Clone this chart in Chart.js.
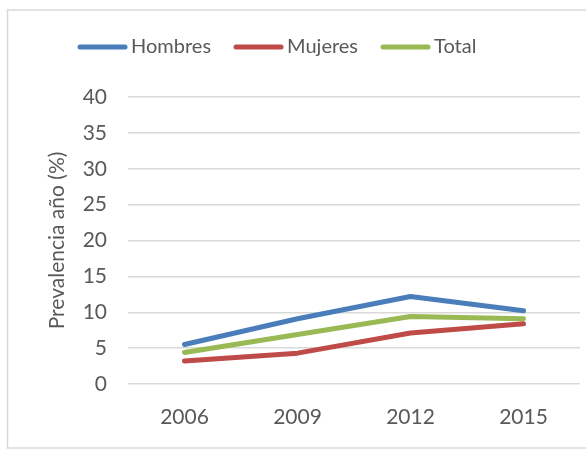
<!DOCTYPE html>
<html>
<head>
<meta charset="utf-8">
<script src="https://cdn.jsdelivr.net/npm/chart.js@4.4.1/dist/chart.umd.min.js"></script>
<style>
html,body{margin:0;padding:0;background:#fff;}
#wrap{position:relative;width:586px;height:455px;}
</style>
</head>
<body>
<div id="wrap"><canvas id="c" width="586" height="455"></canvas></div>
<script>
const categories = ['2006', '2009', '2012', '2015'];
const hombres = [5.5, 9.1, 12.2, 10.2];
const mujeres = [3.2, 4.3, 7.1, 8.4];
const total = [4.4, 6.9, 9.4, 9.1];
const seriesNames = ['Hombres', 'Mujeres', 'Total'];
const seriesColors = ['#4A7EBB', '#BE4B48', '#98B954'];
const yTicks = [0, 5, 10, 15, 20, 25, 30, 35, 40];
const yTitle = 'Prevalencia año (%)';

const FONT = 'Lato, "Open Sans", "Liberation Sans", sans-serif';
const TXT = '#595959';

const frame = {
  id: 'frame',
  beforeDraw(chart) {
    const ctx = chart.ctx;
    ctx.save();
    ctx.fillStyle = '#fff';
    ctx.fillRect(0, 0, chart.width, chart.height);
    ctx.strokeStyle = '#D9D9D9';
    ctx.lineWidth = 1.5;
    ctx.strokeRect(7.5, 10, chart.width + 10, 438);
    ctx.restore();
  },
  afterDraw(chart) {
    const ctx = chart.ctx;
    ctx.save();
    ctx.font = '20px ' + FONT;
    ctx.textBaseline = 'middle';
    const lineLen = 49, gap = 4, itemGap = 23, y = 47;
    const widths = chart.data.datasets.map(d => lineLen + gap + ctx.measureText(d.label).width);
    let x = 78;
    chart.data.datasets.forEach((d, i) => {
      ctx.strokeStyle = d.borderColor;
      ctx.lineWidth = 5;
      ctx.lineCap = 'round';
      ctx.beginPath();
      ctx.moveTo(x + 2, y);
      ctx.lineTo(x + lineLen - 2, y);
      ctx.stroke();
      ctx.fillStyle = TXT;
      ctx.fillText(d.label, x + lineLen + gap, y);
      x += widths[i] + itemGap;
    });
    ctx.restore();
  }
};

const seriesData = [hombres, mujeres, total];
new Chart(document.getElementById('c'), {
  type: 'line',
  data: {
    labels: categories,
    datasets: seriesNames.map((n, i) => ({
      label: n,
      data: seriesData[i],
      borderColor: seriesColors[i],
      backgroundColor: seriesColors[i],
      borderWidth: 5,
      pointRadius: 0,
      tension: 0,
      borderCapStyle: 'round',
      borderJoinStyle: 'round',
      fill: false
    }))
  },
  options: {
    responsive: false,
    animation: false,
    devicePixelRatio: 1,
    layout: { padding: { left: 45, right: 6, top: 97, bottom: 0 } },
    plugins: { legend: { display: false }, tooltip: { enabled: false } },
    scales: {
      x: {
        offset: true,
        grid: { display: false, drawTicks: false, offset: true },
        border: { display: false },
        ticks: { color: TXT, font: { family: FONT, size: 21 }, padding: 21, maxRotation: 0 },
        afterFit(s) { s.height = 71; }
      },
      y: {
        min: 0, max: 40,
        afterBuildTicks(s) { s.ticks = yTicks.map(v => ({ value: v })); },
        grid: { color: '#D9D9D9', lineWidth: 1.5, drawTicks: false },
        border: { display: false },
        ticks: { color: TXT, font: { family: FONT, size: 21 }, padding: 21 },
        title: { display: true, text: yTitle, color: TXT, font: { family: FONT, size: 21 }, padding: 0 },
        afterFit(s) { s.width = 83; }
      }
    }
  },
  plugins: [frame]
});
</script>
</body>
</html>
